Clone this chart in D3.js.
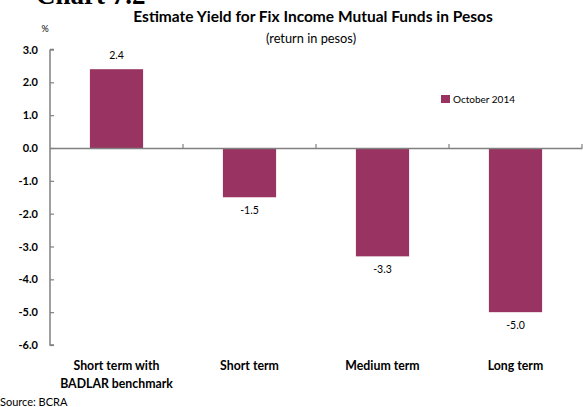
<!DOCTYPE html>
<html><head><meta charset="utf-8">
<script src="https://cdn.jsdelivr.net/npm/d3@7/dist/d3.min.js"></script>
<style>body{margin:0;background:#fff}svg{display:block}text{font-family:Lato,"Open Sans",sans-serif}</style>
</head><body><svg id="c" width="583" height="407"></svg>
<script>
const categories = [["Short term with","BADLAR benchmark"],["Short term"],["Medium term"],["Long term"]];
const values = [2.4, -1.5, -3.3, -5.0];
const yTicks = [3,2,1,0,-1,-2,-3,-4,-5,-6];
const seriesName = "October 2014";

const svg = d3.select("#c");
const color = "#993361";
const x = d3.scaleBand().domain(d3.range(categories.length)).range([50, 582]).paddingInner(0).paddingOuter(0);
const y = d3.scaleLinear().domain([-6, 3]).range([345, 49.5]);

svg.append("text").attr("x",36).attr("y",4).attr("font-weight","bold").attr("font-size",27).style("font-family","'Liberation Serif',serif").text("Chart 7.2");

svg.append("text").attr("x",313).attr("y",22).attr("text-anchor","middle").attr("font-weight","bold").attr("font-size",15.5).text("Estimate Yield for Fix Income Mutual Funds in Pesos");
svg.append("text").attr("x",311).attr("y",43).attr("text-anchor","middle").attr("font-size",12.8).text("(return in pesos)");
svg.append("text").attr("x",45).attr("y",32).attr("text-anchor","middle").attr("font-size",9).text("%");

// bars
svg.selectAll("rect.bar").data(values).join("rect").attr("class","bar")
  .attr("x",(d,i)=>x(i)+x.bandwidth()*0.3)
  .attr("width",x.bandwidth()*0.4)
  .attr("y",d=>y(Math.max(0,d)))
  .attr("height",d=>Math.abs(y(d)-y(0)))
  .attr("fill",color);

// value labels
svg.selectAll("text.val").data(values).join("text").attr("class","val")
  .attr("x",(d,i)=>x(i)+x.bandwidth()/2)
  .attr("y",d=> d>=0 ? y(d)-10 : y(d)+17)
  .attr("text-anchor","middle").attr("font-size",10.5).attr("fill","#000")
  .text(d=>d.toFixed(1));

// y axis
const yAxis = d3.axisRight(y).tickValues(yTicks).tickSize(4).tickFormat("");
const ya = svg.append("g").attr("transform","translate(50,0)").call(yAxis);
ya.select(".domain").attr("stroke","#808080").attr("stroke-width",1.5).attr("d","M0,"+y(3)+"H4M0,"+y(3)+"V"+y(-6)+"H4");
ya.selectAll(".tick line").attr("stroke","#808080").attr("stroke-width",1.2);
svg.selectAll("text.yl").data(yTicks).join("text").attr("class","yl")
  .attr("x",38).attr("y",d=>y(d)+4).attr("text-anchor","end").attr("font-weight","bold").attr("font-size",11)
  .text(d=>d.toFixed(1));

// zero line with category ticks
const xa = svg.append("g").attr("transform","translate(0,"+y(0)+")")
  .call(d3.axisTop(x).tickValues([]).tickSizeOuter(0));
xa.select(".domain").attr("stroke","#808080").attr("stroke-width",1.5);
svg.selectAll("line.ct").data(d3.range(1,categories.length+1)).join("line").attr("class","ct")
  .attr("x1",i=>50+i*x.bandwidth()).attr("x2",i=>50+i*x.bandwidth())
  .attr("y1",y(0)).attr("y2",y(0)-4).attr("stroke","#808080").attr("stroke-width",1.2);

// category labels
categories.forEach((lines,i)=>{
  lines.forEach((l,j)=>{
    svg.append("text").attr("x",x(i)+x.bandwidth()/2).attr("y",370+j*18).attr("text-anchor","middle")
      .attr("font-weight","bold").attr("font-size",12.3).text(l);
  });
});

// legend
svg.append("rect").attr("x",441).attr("y",95).attr("width",9).attr("height",8).attr("fill",color);
svg.append("text").attr("x",453).attr("y",103).attr("font-size",10).text(seriesName);

svg.append("text").attr("x",0).attr("y",406).attr("font-size",11).text("Source: BCRA");
</script></body></html>
